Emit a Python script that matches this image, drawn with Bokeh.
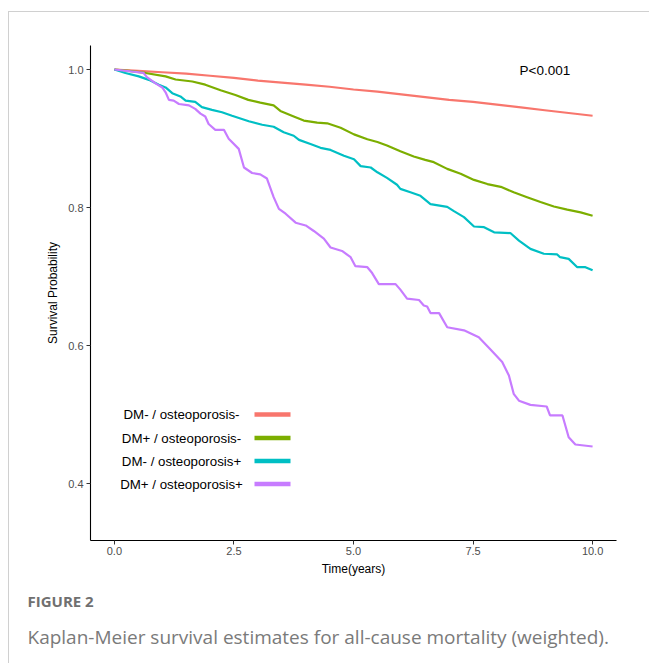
from bokeh.plotting import figure
from bokeh.models import Label, NumeralTickFormatter, Range1d, Title
from bokeh.embed import file_html
from bokeh.resources import INLINE

# ---------------- data ----------------
groups = ["DM- / osteoporosis-", "DM+ / osteoporosis-", "DM- / osteoporosis+", "DM+ / osteoporosis+"]
colors = ["#F8766D", "#7CAE00", "#00BFC4", "#C77CFF"]

red_t = [0, 0.5, 1, 1.5, 2, 2.5, 3, 3.5, 4, 4.5, 5, 5.5, 6, 6.5, 7, 7.5, 8, 8.5, 9, 9.5, 10]
red_s = [1.0, 0.998, 0.996, 0.994, 0.991, 0.988, 0.984, 0.981, 0.978, 0.975, 0.971, 0.968, 0.964,
         0.960, 0.956, 0.953, 0.949, 0.945, 0.941, 0.937, 0.933]

green_t = [0, 0.3, 0.65, 1.07, 1.28, 1.63, 1.9, 2.22, 2.53, 2.8, 3.05, 3.33, 3.47, 3.75, 3.96, 4.24,
           4.45, 4.73, 5.01, 5.29, 5.5, 5.7, 5.98, 6.26, 6.5, 6.68, 6.96, 7.24, 7.52, 7.8, 8.08, 8.35,
           8.63, 8.91, 9.19, 9.47, 9.75, 10.0]
green_s = [1.0, 0.998, 0.995, 0.990, 0.9855, 0.9826, 0.978, 0.970, 0.963, 0.956, 0.952, 0.948, 0.940,
           0.932, 0.926, 0.923, 0.922, 0.9155, 0.906, 0.899, 0.895, 0.890, 0.8816, 0.874, 0.869, 0.8657,
           0.856, 0.849, 0.840, 0.834, 0.830, 0.822, 0.815, 0.808, 0.8015, 0.797, 0.793, 0.788]

cyan_t = [0, 0.23, 0.51, 0.72, 0.93, 1.07, 1.21, 1.38, 1.49, 1.69, 1.83, 2.04, 2.25, 2.46, 2.81, 3.09,
          3.33, 3.54, 3.75, 3.86, 4.1, 4.31, 4.52, 4.8, 5.01, 5.15, 5.36, 5.5, 5.7, 5.91, 5.98, 6.19,
          6.4, 6.61, 6.96, 7.1, 7.31, 7.52, 7.73, 7.94, 8.28, 8.46, 8.7, 8.98, 9.26, 9.32, 9.5, 9.68,
          9.85, 10.0]
cyan_s = [1.0, 0.995, 0.990, 0.985, 0.978, 0.974, 0.9657, 0.961, 0.955, 0.953, 0.9455, 0.9415, 0.938,
          0.933, 0.925, 0.920, 0.917, 0.909, 0.904, 0.898, 0.892, 0.8865, 0.8835, 0.875, 0.870, 0.860,
          0.858, 0.851, 0.843, 0.833, 0.827, 0.822, 0.817, 0.805, 0.801, 0.7947, 0.786, 0.7725, 0.7715,
          0.764, 0.763, 0.752, 0.740, 0.733, 0.732, 0.728, 0.7256, 0.7135, 0.7135, 0.709]

purple_t = [0, 0.61, 0.68, 0.86, 1.0, 1.07, 1.14, 1.24, 1.35, 1.56, 1.69, 1.8, 1.9, 1.97, 2.11, 2.29,
            2.39, 2.6, 2.71, 2.88, 3.05, 3.19, 3.33, 3.44, 3.58, 3.79, 4.0, 4.17, 4.38, 4.52, 4.76,
            4.94, 5.04, 5.29, 5.39, 5.53, 5.88, 5.98, 6.12, 6.37, 6.47, 6.54, 6.61, 6.79, 6.96, 7.31,
            7.62, 7.87, 8.11, 8.25, 8.35, 8.46, 8.7, 9.04, 9.11, 9.37, 9.5, 9.64, 10.0]
purple_s = [1.0, 0.995, 0.989, 0.980, 0.974, 0.967, 0.956, 0.955, 0.950, 0.948, 0.943, 0.936, 0.932,
            0.921, 0.9126, 0.9126, 0.8996, 0.885, 0.858, 0.850, 0.848, 0.842, 0.815, 0.798, 0.791,
            0.778, 0.774, 0.766, 0.755, 0.742, 0.737, 0.728, 0.715, 0.7135, 0.705, 0.689, 0.689, 0.681,
            0.668, 0.666, 0.658, 0.6565, 0.647, 0.647, 0.6265, 0.622, 0.612, 0.594, 0.576, 0.5565,
            0.530, 0.520, 0.514, 0.5116, 0.4986, 0.4986, 0.467, 0.4565, 0.4536]

x_ticks = [0, 2.5, 5, 7.5, 10]
y_ticks = [0.4, 0.6, 0.8, 1.0]
p_text = "P<0.001"
x_title = "Time(years)"
y_title = "Survival Probability"
fig_label = "FIGURE 2"
caption = "Kaplan-Meier survival estimates for all-cause mortality (weighted)."

series = [(red_t, red_s), (green_t, green_s), (cyan_t, cyan_s), (purple_t, purple_s)]

# ---------------- layout ----------------
W, H = 649, 663
BL, BR, BT, BB = 90, 33, 45, 123
X0, X1 = -0.5, 10.5
Y0, Y1 = 0.3174, 1.0348

def dx(px):  # canvas pixel x -> data x
    return X0 + (px - BL) / (W - BL - BR) * (X1 - X0)

def dy(py):  # canvas pixel y -> data y
    return Y1 - (py - BT) / (H - BT - BB) * (Y1 - Y0)

FONT = "Liberation Sans"

p = figure(width=W, height=H, output_backend="svg", toolbar_location=None,
           x_range=Range1d(X0, X1), y_range=Range1d(Y0, Y1),
           min_border_left=BL, min_border_right=BR, min_border_top=BT, min_border_bottom=BB)
p.border_fill_color = None
p.background_fill_color = "white"
p.outline_line_color = None
p.grid.visible = False
p.styles = {"box-shadow": "inset 8px 11px 0 0 #ffffff, inset 9px 12px 0 0 #d0d0d0"}

for ax in (p.xaxis, p.yaxis):
    ax.axis_line_color = "black"
    ax.axis_line_width = 1.1
    ax.major_tick_line_color = "#333333"
    ax.major_tick_out = 4
    ax.major_tick_in = 0
    ax.minor_tick_line_color = None
    ax.major_label_text_font = FONT
    ax.major_label_text_font_size = "11px"
    ax.major_label_text_color = "#4d4d4d"
    ax.axis_label_text_font = FONT
    ax.axis_label_text_font_size = "12px"
    ax.axis_label_text_font_style = "normal"
    ax.axis_label_text_color = "black"
    ax.formatter = NumeralTickFormatter(format="0.0")

p.xaxis.ticker = x_ticks
p.yaxis.ticker = y_ticks
p.xaxis.axis_label = x_title
p.yaxis.axis_label = y_title
p.xaxis.major_label_standoff = 2
p.yaxis.major_label_standoff = 3
p.xaxis.axis_label_standoff = 4
p.yaxis.axis_label_standoff = 5

for (t, s), c in zip(series, colors):
    p.line(t, s, line_color=c, line_width=2.2)

# legend (labels left, keys right, as in the reference)
leg_rows = [414, 437.5, 460.5, 483.5]
for name, c, ry in zip(groups, colors, leg_rows):
    p.add_layout(Label(x=dx(181), y=dy(ry), text=name, text_align="center", text_baseline="middle",
                       text_font=FONT, text_font_size="13.3px", text_color="black"))
    p.segment(x0=[dx(254)], x1=[dx(290)], y0=[dy(ry)], y1=[dy(ry)], line_color=c, line_width=4.5)

p.add_layout(Label(x=dx(519), y=dy(70), text=p_text, text_align="left", text_baseline="middle",
                   text_font=FONT, text_font_size="13.5px", text_color="black"))

# caption below the chart
p.add_layout(Title(text=fig_label, align="left", offset=-63, standoff=21,
                   text_font="Open Sans", text_font_size="15px", text_font_style="bold",
                   text_color="#707070"), "below")
p.add_layout(Title(text=caption, align="left", offset=-63, standoff=0,
                   text_font="Open Sans", text_font_size="19px", text_font_style="normal",
                   text_color="#7a7a7a"), "below")

open("out.html", "w").write(file_html(p, INLINE))
